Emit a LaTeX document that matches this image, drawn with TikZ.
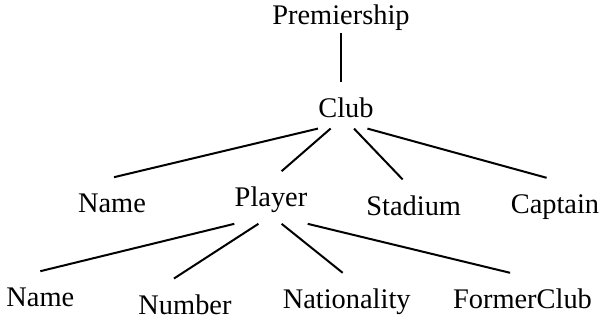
\documentclass[tikz,border=0pt]{standalone}
\usepackage{fontspec}
\setmainfont{Liberation Serif}
\usepackage{tikz}

\tikzset{
  attr/.style={anchor=base, inner sep=0pt, outer ysep=5.5pt,
               text height=12.25pt,
               font=\fontsize{14.2pt}{17pt}\selectfont},
  link/.style={line width=1pt}
}

\begin{document}
\begin{tikzpicture}[x=0.5pt, y=-0.5pt]
            \useasboundingbox (0,0) rectangle (600,321);

            % root and club
            \node[attr, outer ysep=1pt] (prem) at (341,25) {Premiership};
            \node[attr] (club) at (346,117.3) {Club};

            % what a club has
            \node[attr] (name) at (112,212.7) {Name};
            \node[attr] (player) at (271,206.7) {Player};
            \node[attr] (stadium) at (413.7,215) {Stadium};
            \node[attr] (captain) at (555,213.3) {Captain};

            % what a player has
            \node[attr] (pname) at (40.3,306.7) {Name};
            \node[attr] (number) at (185,314) {Number};
            \node[attr] (nationality) at (346.7,308.3) {Nationality};
            \node[attr] (formerclub) at (522.5,308.3) {FormerClub};

            \draw[link] (prem.south) -- (prem.south |- club.north);

            \draw[link] (club.south west) -- ([xshift=1pt]name.north);
            \draw[link] ([xshift=-7.7pt]club.south) -- ([xshift=5.3pt]player.north);
            \draw[link] ([xshift=4pt]club.south) -- ([xshift=-5.5pt]stadium.north);
            \draw[link] ([xshift=-3.3pt]club.south east) -- ([xshift=-4.2pt]captain.north);

            \draw[link] (player.south west) -- (pname.north);
            \draw[link] ([xshift=-6.3pt]player.south) -- ([xshift=-5.5pt]number.north);
            \draw[link] ([xshift=5.3pt]player.south) -- ([xshift=-2pt]nationality.north);
            \draw[link] (player.south east) -- ([xshift=-6.2pt]formerclub.north);

        \end{tikzpicture}
\end{document}
